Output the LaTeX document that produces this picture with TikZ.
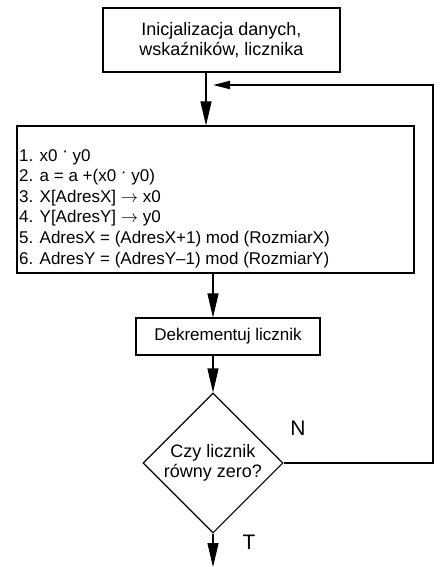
\documentclass[tikz,border=0pt]{standalone}
\usepackage{fontspec}
\setmainfont{Liberation Sans}
\usetikzlibrary{arrows.meta,shapes.geometric}
\newcommand{\mdot}{\raisebox{0.5ex}{\textperiodcentered}}
\begin{document}
\begin{tikzpicture}[x=1pt,y=-1pt,
  txt/.style={font=\fontsize{18}{20.6}\selectfont},
  stxt/.style={font=\fontsize{17}{20.6}\selectfont},
  box/.style={draw,line width=1.1pt,inner sep=0pt,txt},
  flow/.style={line width=1.1pt,-{Triangle[length=24pt,width=11pt]}},
  back/.style={line width=1.8pt,-{Triangle[length=17pt,width=8pt]}},
  lbl/.style={font=\fontsize{21}{24}\selectfont,inner sep=0pt}]
\useasboundingbox (0,0) rectangle (441,567);
% nodes
\node[box,minimum width=237pt,minimum height=64pt,align=center] (init) at (221.5,40)
  {Inicjalizacja danych,\\wskaźników, licznika};
\node[box,minimum width=397pt,minimum height=147pt] (main) at (215.5,199.5) {};
\node[stxt,anchor=north west,align=left,inner sep=0pt] (steps) at (19,149)
  {1. x0 \mdot\ y0\\
   2. a = a +(x0 \mdot\ y0)\\
   3. X[AdresX] $\rightarrow$ x0\\
   4. Y[AdresY] $\rightarrow$ y0\\
   5. AdresX = (AdresX+1) mod (RozmiarX)\\
   6. AdresY = (AdresY–1) mod (RozmiarY)};
\node[box,stxt,minimum width=184pt,minimum height=37pt] (dec) at (228,336.5) {Dekrementuj licznik};
\node[box,diamond,align=center,minimum width=140pt,minimum height=140pt] (cond) at (213,463)
  {Czy licznik\\równy zero?};
\node[lbl] (n) at (298,428) {N};
\node[lbl] (t) at (249,542) {T};
% coordinates
\coordinate (a1) at (206,0);
\coordinate (a2) at (213,0);
\coordinate (back) at (213,85);
\coordinate (loopx) at (433,0);
\coordinate (end) at (213,567);
% connectors
\draw[flow] (init.south -| a1) -- (main.north -| a1);
\draw[flow] (main.south -| a2) -- (dec.north -| a2);
\draw[flow] (dec.south -| cond.north) -- (cond.north);
\draw[flow] (cond.south) -- (end);
\draw[back] (cond.east) -- (cond.east -| loopx) -- (back -| loopx) -- (back);
\end{tikzpicture}
\end{document}
